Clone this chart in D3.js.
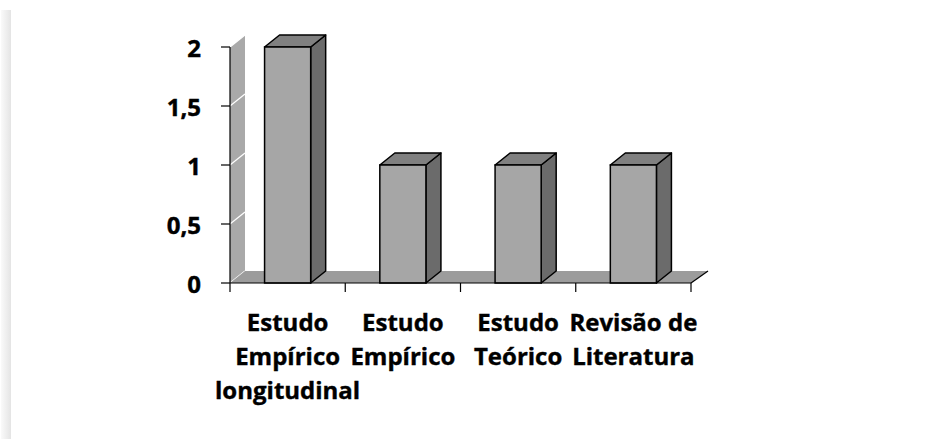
<!DOCTYPE html>
<html>
<head>
<meta charset="utf-8">
<script src="https://cdn.jsdelivr.net/npm/d3@7"></script>
<style>
  html, body { margin: 0; padding: 0; background: #fff; }
  svg { display: block; }
  text { font-family: "Open Sans", Lato, sans-serif; font-weight: 700; fill: #000; stroke: #000; stroke-width: 0.4px; }
</style>
</head>
<body>
<svg id="chart" width="926" height="439"></svg>
<script>
// Categories (one entry per bar, split into lines) and their counts
const categories = [
  ["Estudo", "Empírico", "longitudinal"],
  ["Estudo", "Empírico"],
  ["Estudo", "Teórico"],
  ["Revisão de", "Literatura"]
];
const values = [2, 1, 1, 1];
const yTicks = [0, 0.5, 1, 1.5, 2];
const yTickLabels = ["0", "0,5", "1", "1,5", "2"];

const svg = d3.select("#chart");

// soft shadow strip along the left edge of the frame
const defs = svg.append("defs");
const grad = defs.append("linearGradient").attr("id", "edge").attr("x1", 0).attr("x2", 1);
grad.append("stop").attr("offset", 0).attr("stop-color", "#fafafa");
grad.append("stop").attr("offset", 1).attr("stop-color", "#e4e4e4");
svg.append("rect").attr("x", 1).attr("y", 10).attr("width", 10).attr("height", 429).attr("fill", "url(#edge)");

// plot geometry
const x0 = 230, x1 = 691;
const dx = 15, dy = -12;           // depth offset of the 3D projection
const x = d3.scaleBand().domain(d3.range(values.length)).range([x0, x1])
  .paddingInner(0.6).paddingOuter(0.3);
const y = d3.scaleLinear().domain([0, 2]).range([283, 47]);

const pts = a => a.map(p => p.join(",")).join(" ");

// side wall
svg.append("polygon")
  .attr("points", pts([[x0, y(0)], [x0 + dx, y(0) + dy], [x0 + dx, y(2) + dy], [x0, y(2)]]))
  .attr("fill", "#a9a9a9");
// wall gridlines
svg.append("g").selectAll("line").data(yTicks).join("line")
  .attr("x1", x0).attr("y1", d => y(d))
  .attr("x2", x0 + dx).attr("y2", d => y(d) + dy)
  .attr("stroke", "#fff").attr("stroke-width", 1.2);

// floor
svg.append("polygon")
  .attr("points", pts([[x0, y(0)], [x0 + dx, y(0) + dy], [x1 + dx + 2, y(0) + dy], [x1, y(0)]]))
  .attr("fill", "#9c9c9c");
svg.append("line")
  .attr("x1", x1).attr("y1", y(0)).attr("x2", x1 + dx + 2).attr("y2", y(0) + dy)
  .attr("stroke", "#000").attr("stroke-width", 1.2);

// bars
const bars = svg.append("g").selectAll("g").data(values).join("g");
const bw = x.bandwidth();
bars.append("polygon") // right side
  .attr("points", (d, i) => {
    const xr = x(i) + bw;
    return pts([[xr, y(d)], [xr + dx, y(d) + dy], [xr + dx, y(0) + dy], [xr, y(0)]]);
  })
  .attr("fill", "#6b6b6b").attr("stroke", "#000").attr("stroke-width", 1.5).attr("stroke-linejoin", "round");
bars.append("polygon") // top
  .attr("points", (d, i) => {
    const xl = x(i);
    return pts([[xl, y(d)], [xl + dx, y(d) + dy], [xl + bw + dx, y(d) + dy], [xl + bw, y(d)]]);
  })
  .attr("fill", "#808080").attr("stroke", "#000").attr("stroke-width", 1.5).attr("stroke-linejoin", "round");
bars.append("rect") // front
  .attr("x", (d, i) => x(i)).attr("y", d => y(d))
  .attr("width", bw).attr("height", d => y(0) - y(d))
  .attr("fill", "#a6a6a6").attr("stroke", "#000").attr("stroke-width", 1.5);

// y axis
const yAxis = svg.append("g");
yAxis.append("line").attr("x1", x0).attr("x2", x0).attr("y1", y(2)).attr("y2", y(0))
  .attr("stroke", "#000").attr("stroke-width", 1.2);
yAxis.selectAll("line.tick").data(yTicks).join("line").attr("class", "tick")
  .attr("x1", x0 - 9).attr("x2", x0).attr("y1", d => y(d)).attr("y2", d => y(d))
  .attr("stroke", "#000").attr("stroke-width", 1.2);
yAxis.selectAll("text").data(yTicks).join("text")
  .attr("x", 201).attr("y", d => y(d) + 10)
  .attr("text-anchor", "end")
  .style("font-size", "24px")
  .text((d, i) => yTickLabels[i]);

// x axis
const step = x.step();
const xAxis = svg.append("g");
xAxis.append("line").attr("x1", x0).attr("x2", x1).attr("y1", y(0)).attr("y2", y(0))
  .attr("stroke", "#000").attr("stroke-width", 1.2);
xAxis.selectAll("line.tick").data(d3.range(values.length + 1)).join("line").attr("class", "tick")
  .attr("x1", i => x0 + i * step).attr("x2", i => x0 + i * step)
  .attr("y1", y(0)).attr("y2", y(0) + 9)
  .attr("stroke", "#000").attr("stroke-width", 1.2);

const lab = xAxis.selectAll("g.lab").data(categories).join("g").attr("class", "lab");
lab.selectAll("text").data((d, i) => d.map((t, k) => ({ t, k, i }))).join("text")
  .attr("x", d => x(d.i) + bw / 2).attr("y", d => 331 + d.k * 34)
  .attr("text-anchor", "middle")
  .style("font-size", "24px")
  .text(d => d.t);
</script>
</body>
</html>
